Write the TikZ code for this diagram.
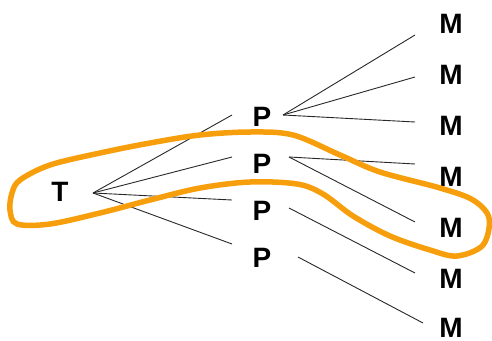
\documentclass[tikz,border=0pt]{standalone}
\usepackage{fontspec}
\setmainfont{Liberation Sans}
\definecolor{loop}{RGB}{247,158,12}
\definecolor{edge}{RGB}{40,40,40}
\begin{document}
\begin{tikzpicture}[x=1pt,y=-1pt,
  lbl/.style={font=\fontsize{28}{30}\selectfont\bfseries, inner sep=0pt},
  branch/.style={draw=edge, line width=0.9pt},
  lasso/.style={draw=loop, line width=5.5pt}]
\useasboundingbox (0,0) rectangle (492,340);

% labels
\node[lbl] (T) at (60,192) {T};
\node[lbl] (P1) at (262,117) {P};
\node[lbl] (P2) at (262,164) {P};
\node[lbl] (P3) at (262,211) {P};
\node[lbl] (P4) at (262,258) {P};
\foreach \i/\y in {1/24,2/75,3/126,4/177,5/228,6/279,7/328}
  \node[lbl] (M\i) at (451,\y) {M};

% line ends
\coordinate (t0) at (93,193);
\coordinate (tp1) at (232,115);
\coordinate (tp2) at (232,157);
\coordinate (tp3) at (232,200);
\coordinate (tp4) at (232,244);
\coordinate (p1o) at (283,115);
\coordinate (p2o) at (289,157);
\coordinate (p3o) at (289,208);
\coordinate (p4o) at (298,257);
\coordinate (m1i) at (415,35);
\coordinate (m2i) at (415,77);
\coordinate (m3i) at (415,122);
\coordinate (m4i) at (415,164);
\coordinate (m5i) at (415,222);
\coordinate (m6i) at (415,273);
\coordinate (m7i) at (423,323);

% branches
\foreach \e in {tp1,tp2,tp3,tp4} \draw[branch] (t0) -- (\e);
\foreach \e in {m1i,m2i,m3i} \draw[branch] (p1o) -- (\e);
\foreach \e in {m4i,m5i} \draw[branch] (p2o) -- (\e);
\draw[branch] (p3o) -- (m6i);
\draw[branch] (p4o) -- (m7i);

% lasso around T, P, M
\draw[lasso] plot[smooth cycle, tension=0.55] coordinates {
  (20,180) (50,165) (100,153) (150,143) (200,135) (250,132) (293,135)
  (340,155) (380,172) (440,188) (473,200) (489,218) (483,245) (457,256)
  (430,250) (390,236) (353,216) (323,194) (297,184) (250,182) (200,188)
  (150,200) (100,213) (50,224) (17,224) (10,210) (12,193)};
\end{tikzpicture}
\end{document}
